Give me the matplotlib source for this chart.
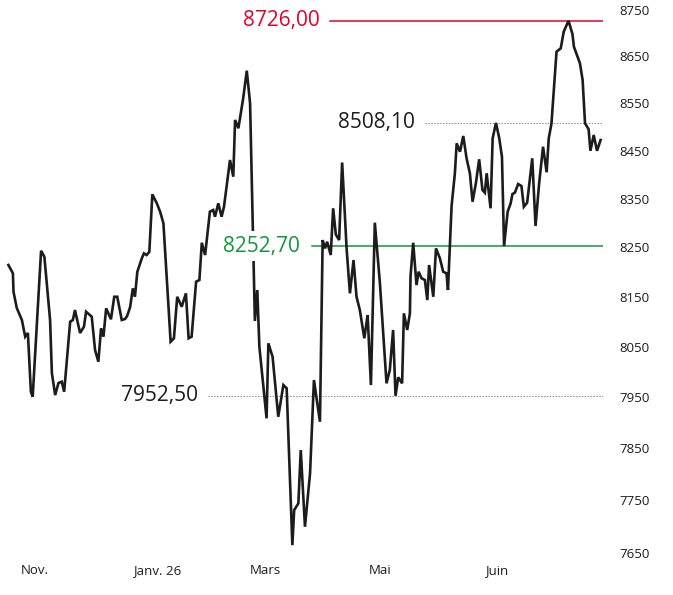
import matplotlib
matplotlib.use('Agg')
import matplotlib.pyplot as plt
from matplotlib.ticker import NullLocator
import matplotlib.transforms as mtransforms

plt.rcParams['font.family'] = ['Open Sans', 'DejaVu Sans']

# trading-day index and index value
days = [0, 1.5, 1.7, 2.8, 4.5, 5.6, 6.5, 7.5, 8.1, 10.9, 12.0, 13.9, 14.5, 15.6, 16.7, 17.8,
        18.6, 20.6, 21.5, 22.2, 23.9, 25.2, 25.9, 27.8, 28.9, 30.0, 30.9, 31.7, 32.6, 34.2,
        35.3, 36.3, 37.8, 38.9, 39.6, 40.6, 41.5, 42.2, 43.0, 44.5, 45.2, 46.1, 47.0, 48.0,
        49.5, 50.6, 51.7, 54.1, 55.2, 56.3, 57.8, 59.2, 60.1, 61.1, 62.6, 63.7, 64.5, 65.6,
        67.2, 68.3, 68.9, 70.0, 71.1, 71.9, 73.9, 75.0, 75.6, 76.7, 78.3, 79.5, 80.6, 82.2,
        83.0, 83.7, 84.8, 86.1, 86.7, 88.1, 90.0, 91.7, 92.8, 94.7, 95.3, 96.7, 97.5, 98.9,
        100.6, 101.9, 103.9, 104.8, 105.6, 106.3, 107.5, 108.3, 109.2, 110.3, 111.3, 112.8,
        113.9, 115.1, 116.1, 117.2, 118.7, 119.8, 120.9, 122.2, 123.9, 126.1, 127.2, 128.3,
        129.1, 130.0, 131.3, 131.9, 133.0, 133.9, 134.1, 135.0, 136.1, 136.8, 137.8, 138.9,
        139.7, 140.3, 141.7, 142.6, 143.9, 145.0, 146.1, 146.6, 147.8, 148.9, 149.5, 150.6,
        151.7, 152.8, 153.9, 154.8, 155.9, 157.0, 158.1, 158.9, 159.5, 160.8, 161.5, 162.6,
        163.7, 164.6, 165.3, 166.5, 167.5, 168.1, 168.9, 170.0, 171.1, 171.9, 173.0, 174.7,
        175.8, 177.0, 178.3, 179.5, 180.2, 181.1, 182.8, 184.2, 185.2, 186.8, 188.1, 188.6,
        190.6, 191.5, 192.3, 193.5, 194.1, 195.2, 196.3, 197.5]
values = [8214.1, 8197.2, 8159.9, 8127.1, 8103.1, 8069.7, 8077.1, 7960.5, 7950.5, 8243.1,
          8230.9, 8103.1, 7997.5, 7953.9, 7977.7, 7980.3, 7960.5, 8099.7, 8103.1, 8123.1,
          8077.1, 8089.7, 8119.7, 8109.7, 8043.1, 8019.9, 8086.5, 8069.7, 8126.5, 8104.5,
          8149.8, 8149.8, 8103.1, 8105.1, 8111.1, 8129.1, 8166.8, 8149.8, 8200.5, 8227.7,
          8237.8, 8234.4, 8241.0, 8359.0, 8340.4, 8323.2, 8299.3, 8059.7, 8066.5, 8149.8,
          8129.7, 8156.7, 8066.5, 8069.7, 8180.2, 8183.7, 8259.5, 8234.4, 8323.2, 8326.7,
          8312.9, 8340.4, 8312.9, 8333.4, 8430.3, 8395.6, 8514.3, 8496.8, 8560.0, 8618.8,
          8549.4, 8101.1, 8163.4, 8049.7, 7983.6, 7908.3, 8056.5, 8029.8, 7911.4, 7973.7,
          7967.2, 7664.0, 7730.7, 7743.5, 7846.4, 7698.9, 7801.4, 7983.6, 7901.6, 8265.0,
          8248.0, 8261.5, 8234.4, 8330.2, 8276.3, 8265.0, 8425.1, 8246.6, 8156.7, 8224.2,
          8149.8, 8123.1, 8066.5, 8113.1, 7973.7, 8300.6, 8177.0, 7977.1, 8003.5, 8083.1,
          7952.5, 7989.0, 7977.1, 8116.5, 8083.1, 8116.5, 8190.4, 8259.5, 8173.5, 8200.5,
          8187.1, 8183.7, 8143.1, 8214.1, 8149.8, 8248.0, 8227.7, 8200.5, 8197.2, 8163.4,
          8334.9, 8402.7, 8465.2, 8447.6, 8480.6, 8433.9, 8402.7, 8343.7, 8381.9, 8431.8,
          8368.0, 8362.4, 8402.7, 8330.2, 8475.7, 8508.1, 8475.7, 8437.2, 8252.7, 8323.2,
          8340.4, 8359.7, 8362.4, 8380.4, 8376.3, 8333.4, 8341.7, 8433.9, 8293.8, 8381.9,
          8458.1, 8404.8, 8475.7, 8506.0, 8659.3, 8666.5, 8702.3, 8726.0, 8697.4, 8670.0,
          8634.6, 8599.0, 8507.3, 8494.7, 8449.6, 8482.7, 8449.6, 8472.2]

month_pos = [8.9, 49.6, 85.6, 123.9, 162.9]
month_labels = ['Nov.', 'Janv. 26', 'Mars', 'Mai', 'Juin']
y_ticks = [7650, 7750, 7850, 7950, 8050, 8150, 8250, 8350, 8450, 8550, 8650, 8750]

high = 8726.00
prev_high = 8508.10
ref_level = 8252.70
low = 7952.50

red = '#e4002b'
green = '#12963c'
ink = '#1c1c1c'

fig = plt.figure(figsize=(6.73, 5.95), dpi=100)
ax = fig.add_axes([0, 0.0714, 0.896, 0.9202])

ax.plot(days, values, color=ink, lw=1.9, zorder=3, solid_joinstyle='miter')

ax.axhline(high, xmin=0.547, xmax=1, color=red, lw=1.1, zorder=2)
ax.axhline(ref_level, xmin=0.517, xmax=1, color=green, lw=1.1, zorder=2)
ax.axhline(prev_high, xmin=0.705, xmax=1, color='#8a8a8a', lw=0.7, ls=(0, (1.5, 1.5)), zorder=2)
ax.axhline(low, xmin=0.345, xmax=1, color='#8a8a8a', lw=0.7, ls=(0, (1.5, 1.5)), zorder=2)

tr = mtransforms.blended_transform_factory(ax.transAxes, ax.transData)

def fmt(v):
    return f'{v:.2f}'.replace('.', ',')

box = dict(facecolor='white', edgecolor='none', pad=3)
ax.text(0.531, high, fmt(high), transform=tr, ha='right', va='center', color=red,
        fontsize=15, bbox=box, zorder=5)
ax.text(0.4975, ref_level, fmt(ref_level), transform=tr, ha='right', va='center', color=green,
        fontsize=15, bbox=box, zorder=5)
ax.text(0.688, prev_high, fmt(prev_high), transform=tr, ha='right', va='center', color=ink,
        fontsize=15, bbox=box, zorder=5)
ax.text(0.328, low, fmt(low), transform=tr, ha='right', va='center', color=ink,
        fontsize=15, bbox=box, zorder=5)

ax.set_yscale('log')
ax.set_ylim(7650, 8760)
ax.set_xlim(-2.8, 198.3)
ax.yaxis.set_minor_locator(NullLocator())
ax.set_yticks(y_ticks)
ax.set_yticklabels([str(t) for t in y_ticks])
ax.yaxis.tick_right()
ax.set_xticks(month_pos)
ax.set_xticklabels(month_labels)
ax.tick_params(axis='both', length=0, labelsize=9.5, colors=ink)
ax.tick_params(axis='y', pad=12)
ax.tick_params(axis='x', pad=8)
for s in ax.spines.values():
    s.set_visible(False)

fig.savefig('out.png', dpi=100)
